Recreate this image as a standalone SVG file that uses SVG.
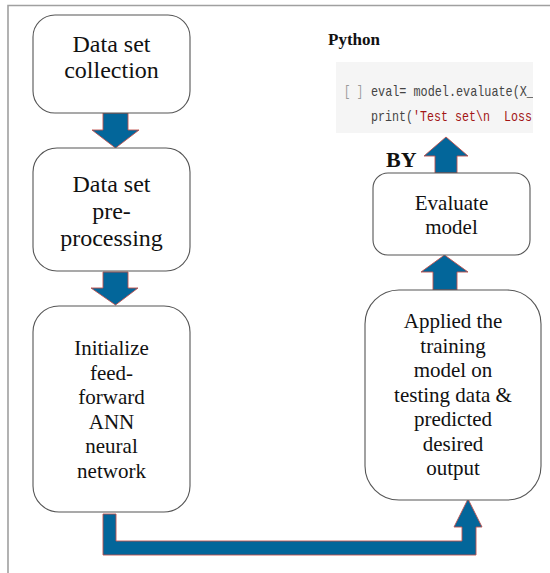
<svg xmlns="http://www.w3.org/2000/svg" width="550" height="573" viewBox="0 0 550 573">
<style>
.box{fill:#fff;stroke:#555;stroke-width:1.1}
.arr{fill:#03669a;stroke:#c0504d;stroke-width:0.9}
.t24{font-family:"Liberation Serif","Times New Roman",serif;font-size:24px;fill:#111;text-anchor:middle}
.t21{font-family:"Liberation Serif","Times New Roman",serif;font-size:21px;fill:#111;text-anchor:middle}
.b{font-family:"Liberation Serif","Times New Roman",serif;font-weight:bold;fill:#111}
.code{font-family:"Liberation Mono","DejaVu Sans Mono",monospace;font-size:15px;white-space:pre}
</style>
<defs>
<clipPath id="cc"><rect x="336" y="62" width="197" height="71"/></clipPath>
</defs>
<rect width="550" height="573" fill="#fff"/>
<path d="M550 5.5H8V573" fill="none" stroke="#a0a0a0" stroke-width="1.6"/>

<g id="connectors">
<path class="arr" d="M103 113H128V130H139L115.5 148L92 130H103Z"/>
<path class="arr" d="M103 272H128V288H138L115.5 305L91 288H103Z"/>
<path class="arr" d="M103 514H116V541H462V527H454L468 499L482 527H476V555H103Z"/>
<path class="arr" d="M433 290H457V272H468L444.5 255L421 272H433Z"/>
<path class="arr" d="M435 173H457V156H468L446 137L424 156H435Z"/>
</g>

<g id="node-collection">
<rect class="box" x="33" y="15" width="157" height="98" rx="22"/>
<text class="t24" x="111.5" y="52">Data set</text>
<text class="t24" x="111.5" y="78">collection</text>
</g>

<g id="node-preprocessing">
<rect class="box" x="33" y="148" width="157" height="123" rx="24"/>
<text class="t24" x="111.5" y="192">Data set</text>
<text class="t24" x="111.5" y="219">pre-</text>
<text class="t24" x="111.5" y="246">processing</text>
</g>

<g id="node-initialize">
<rect class="box" x="33" y="306" width="157" height="206" rx="26"/>
<text class="t21" x="111.5" y="355">Initialize</text>
<text class="t21" x="111.5" y="379.5">feed-</text>
<text class="t21" x="111.5" y="404">forward</text>
<text class="t21" x="111.5" y="428.5">ANN</text>
<text class="t21" x="111.5" y="453">neural</text>
<text class="t21" x="111.5" y="477.5">network</text>
</g>

<g id="node-applied">
<rect class="box" x="365" y="290" width="176" height="210" rx="34"/>
<text class="t21" x="453" y="328">Applied the</text>
<text class="t21" x="453" y="352.5">training</text>
<text class="t21" x="453" y="377">model on</text>
<text class="t21" x="453" y="401.5">testing data &amp;</text>
<text class="t21" x="453" y="426">predicted</text>
<text class="t21" x="453" y="450.5">desired</text>
<text class="t21" x="453" y="475">output</text>
</g>

<g id="node-evaluate">
<rect class="box" x="373" y="173" width="157" height="82" rx="15"/>
<text class="t21" x="451.5" y="210">Evaluate</text>
<text class="t21" x="451.5" y="234">model</text>
</g>

<g id="label-by">
<text class="b" x="386" y="167" font-size="22">BY</text>
</g>

<g id="python">
<text class="b" x="328" y="45" font-size="17">Python</text>
<rect x="336" y="62" width="197" height="71" fill="#f5f5f5"/>
<g clip-path="url(#cc)">
<text class="code" x="344" y="96" fill="#9a9a9a" textLength="19" lengthAdjust="spacingAndGlyphs">[ ]</text>
<text class="code" x="371" y="96" fill="#444" textLength="170" lengthAdjust="spacingAndGlyphs">eval= model.evaluate(X_t</text>
<text class="code" x="371" y="121" fill="#444" textLength="161" lengthAdjust="spacingAndGlyphs">print(<tspan fill="#a31515">'Test set\n  Loss</tspan></text>
</g>
</g>
</svg>
